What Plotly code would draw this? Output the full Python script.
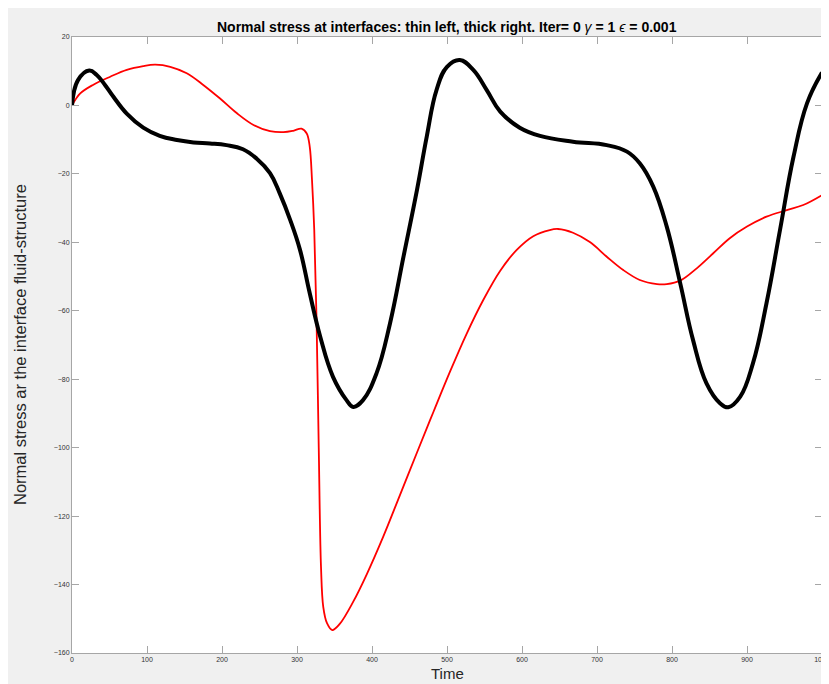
import plotly.graph_objects as go

# Thick (black) curve: time and normal stress
t_black = [0, 8, 23, 33, 44, 55, 73, 95, 117, 140, 162, 184, 206, 228, 246, 264, 277, 291,
           304, 317, 331, 348, 366, 375, 388, 406, 424, 442, 460, 473, 486, 500, 517, 535,
           553, 571, 597, 624, 668, 713, 740, 757, 775, 793, 811, 828, 846, 864, 875, 891,
           908, 926, 944, 962, 980, 1000]
v_black = [0, 7.4, 10.2, 8.9, 6.0, 2.6, -2.4, -6.5, -8.9, -10.1, -10.8, -11.1, -11.6, -12.8,
           -15.5, -19.8, -25.7, -33.5, -42.2, -54.9, -67.6, -79.3, -86.1, -88.1, -86.1, -78.3,
           -63.7, -44.2, -24.7, -9.1, 4.5, 11.3, 13.3, 10.4, 4.5, -1.8, -6.5, -8.9, -10.6,
           -11.6, -13.5, -16.9, -23.7, -35.4, -52.0, -68.5, -81.2, -87.0, -88.2, -85.1, -75.3,
           -57.8, -36.4, -15.0, 0.6, 9.6]

# Thin (red) curve: time and normal stress
t_red = [0, 11, 28, 51, 73, 95, 111, 131, 153, 175, 197, 220, 242, 264, 282, 295, 306, 313,
         317, 320, 323, 326, 329, 332, 335, 340, 347, 357, 375, 393, 415, 437, 460, 482, 504,
         526, 548, 571, 593, 615, 637, 648, 668, 691, 713, 735, 757, 780, 793, 811, 833, 855,
         877, 900, 926, 953, 975, 1000]
v_red = [0, 3.5, 6.0, 8.4, 10.4, 11.5, 11.9, 11.3, 9.4, 6.0, 2.1, -2.3, -5.7, -7.5, -7.8,
         -7.4, -6.8, -8.2, -12.1, -21.8, -36.4, -62.0, -100.0, -134.8, -146.5, -151.3, -153.3,
         -151.5, -145.0, -137.0, -126.0, -114.0, -101.4, -89.5, -77.8, -66.8, -57.0, -48.3,
         -42.2, -38.2, -36.4, -36.1, -37.2, -40.0, -44.2, -48.1, -51.0, -52.2, -52.2, -51.2,
         -47.6, -43.2, -38.8, -35.4, -32.5, -30.6, -29.1, -26.2]

x_ticks = list(range(0, 1001, 100))
y_ticks = list(range(-160, 21, 20))

title_html = ("<b>Normal stress at interfaces: thin left, thick right. Iter= 0 </b>"
              "<i>γ</i><b> = 1 </b><i>ϵ</i><b> = 0.001</b>")

fig = go.Figure()
fig.add_trace(go.Scatter(x=t_red, y=v_red, mode="lines",
                         line=dict(color="#ff0000", width=1.8, shape="spline", smoothing=1.0),
                         showlegend=False, hoverinfo="skip"))
fig.add_trace(go.Scatter(x=t_black, y=v_black, mode="lines",
                         line=dict(color="#000000", width=4, shape="spline", smoothing=1.2),
                         showlegend=False, hoverinfo="skip"))

# page is drawn with an 8px body offset
W, H = 829, 684
L, T = 64, 29
pw, ph = 750, 616
R, B = W - L - pw, H - T - ph

axis_common = dict(
    showgrid=False, zeroline=False, showline=True, linecolor="#a6a6a6", linewidth=1,
    mirror="ticks", ticks="inside", ticklen=7, tickcolor="#a6a6a6", tickwidth=1,
    tickfont=dict(family="Liberation Sans, Arial, sans-serif", size=7, color="#333333"),
)

font = "Liberation Sans, Arial, sans-serif"
fig.update_layout(
    width=W, height=H,
    margin=dict(l=L, r=R, t=T, b=B, autoexpand=False),
    paper_bgcolor="#f0f0f0", plot_bgcolor="#ffffff",
    xaxis=dict(range=[0, 1000], tickvals=x_ticks, **axis_common),
    yaxis=dict(range=[-160, 20], tickvals=y_ticks, **axis_common),
    annotations=[
        dict(text=title_html, xref="paper", yref="paper", x=0.5, y=(H - B - 19) / ph,
             xanchor="center", yanchor="middle", showarrow=False,
             font=dict(family=font, size=14, color="#000000")),
        dict(text="Time", xref="paper", yref="paper", x=0.5, y=(H - B - 665) / ph,
             xanchor="center", yanchor="middle", showarrow=False,
             font=dict(family=font, size=15, color="#262626")),
        dict(text="Normal stress ar the interface fluid-structure", xref="paper", yref="paper",
             x=(12 - L) / pw, y=0.5, textangle=-90, xanchor="center", yanchor="middle",
             showarrow=False, font=dict(family=font, size=16.5, color="#262626")),
    ],
)

fig.write_html("out.html")
